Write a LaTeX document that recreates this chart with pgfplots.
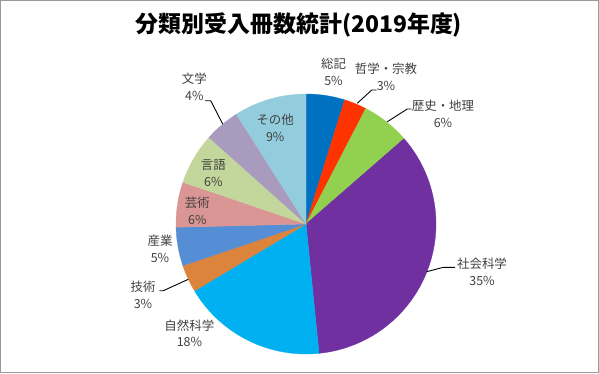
\documentclass[border=0pt]{standalone}
\usepackage{fontspec}
\setmainfont{Noto Sans CJK JP}
\usepackage{pgfplots}
\usepackage{pgfplotstable}
\pgfplotsset{compat=1.18}
\definecolor{slice0}{HTML}{0070C0}
\definecolor{slice1}{HTML}{FF3300}
\definecolor{slice2}{HTML}{92D050}
\definecolor{slice3}{HTML}{7030A0}
\definecolor{slice4}{HTML}{00B0F0}
\definecolor{slice5}{HTML}{DD843C}
\definecolor{slice6}{HTML}{558ED5}
\definecolor{slice7}{HTML}{D99694}
\definecolor{slice8}{HTML}{C3D69B}
\definecolor{slice9}{HTML}{A99BBE}
\definecolor{slice10}{HTML}{93CDDD}
\definecolor{lbl}{HTML}{404040}
% share (%) of each category, clockwise from 12 o'clock
\pgfplotstableread{
idx value
0 4.8
1 2.8
2 6.0
3 34.8
4 18.0
5 3.4
6 4.8
7 5.6
8 6.4
9 4.4
10 9.0
}\piedata
\begin{document}
\begin{tikzpicture}[x=1bp,y=1bp]
\path[use as bounding box] (0,0) rectangle (599,373);
\draw[color=black!40, line width=1.2bp] (0.6,0.6) rectangle (598.4,372.4);
\begin{axis}[at={(306bp,149bp)}, anchor=center, scale only axis,
  width=260bp, height=260bp, xmin=-1, xmax=1, ymin=-1, ymax=1,
  hide axis, clip=false]
\def\cum{0}
\pgfplotsforeachungrouped \i in {0,...,10}{%
  \pgfplotstablegetelem{\i}{value}\of\piedata
  \let\val\pgfplotsretval
  \pgfmathsetmacro\a{\cum*3.6}%
  \pgfmathsetmacro\b{(\cum+\val)*3.6}%
  \pgfmathsetmacro\cum{\cum+\val}%
  \edef\temp{\noexpand\addplot[fill=slice\i, draw=slice\i, line width=0.3pt, domain=\a:\b, samples=60]
    ({sin(\noexpand\x)},{cos(\noexpand\x)}) -- (axis cs:0,0) -- cycle;}%
  \temp
}
\end{axis}
\begin{scope}[shift={(0,373)}, yscale=-1]
\node[font=\fontsize{23}{28}\selectfont\bfseries] at (299,25) {分類別受入冊数統計(2019年度)};
\tikzset{lab/.style={text=lbl, align=center, font=\fontsize{12.5}{17}\selectfont, inner sep=0pt}}
\node[lab] at (333.5,71.5) {総記\\5\%};
\node[lab] at (386,77) {哲学・宗教\\3\%};
\node[lab] at (443,113.5) {歴史・地理\\6\%};
\node[lab] at (482,272) {社会科学\\35\%};
\node[lab] at (189.4,333.3) {自然科学\\18\%};
\node[lab] at (143,294.5) {技術\\3\%};
\node[lab] at (160,249.2) {産業\\5\%};
\node[lab] at (197.4,211) {芸術\\6\%};
\node[lab] at (213.4,173) {言語\\6\%};
\node[lab] at (194.4,87) {文学\\4\%};
\node[lab] at (275.2,128) {その他\\9\%};
\draw[black, line width=0.9bp] (376.7,90) -- (371.7,90) -- (357.3,103.3);
\draw[black, line width=0.9bp] (411.7,109) -- (407.3,109) -- (387.3,121.7);
\draw[black, line width=0.9bp] (455,267.3) -- (443.3,267.3) -- (426.7,271.7);
\draw[black, line width=0.9bp] (159.3,290.7) -- (163.3,290.7) -- (188.3,279.3);
\draw[black, line width=0.9bp] (205,100.7) -- (210.7,100.7) -- (222.7,124);
\end{scope}
\end{tikzpicture}
\end{document}
